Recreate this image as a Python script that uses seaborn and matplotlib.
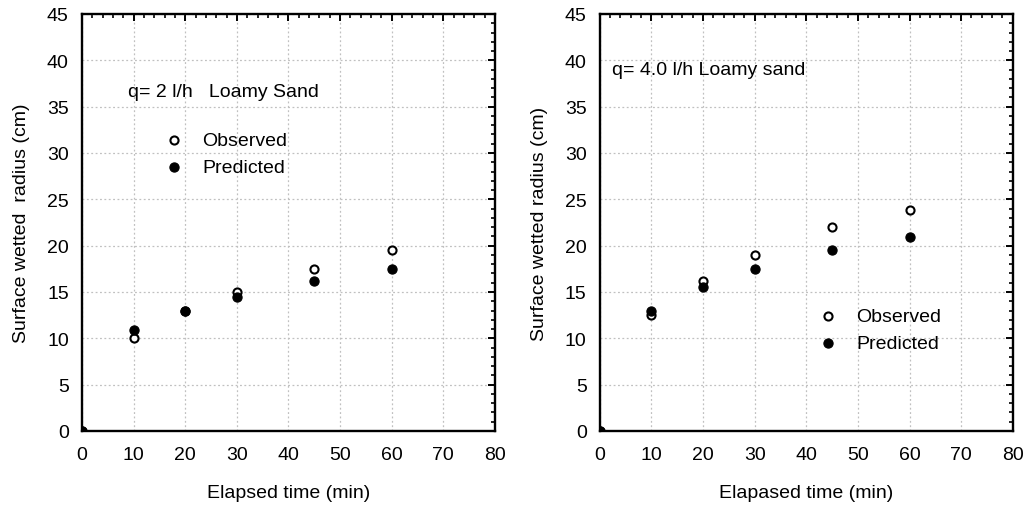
import numpy as np
import pandas as pd
import matplotlib.pyplot as plt
import seaborn as sns
from matplotlib.ticker import MultipleLocator

sns.set_style("white")
plt.rcParams["font.family"] = ["Liberation Sans", "DejaVu Sans"]
plt.rcParams.update({"text.color": "black", "axes.labelcolor": "black",
                     "xtick.color": "black", "ytick.color": "black"})

# ── data ─────────────────────────────────────────────────────────────────────
time_min = [0, 10, 20, 30, 45, 60]

obs_2lh = [0, 10.0, 13.0, 15.0, 17.5, 19.5]
pred_2lh = [0, 10.9, 13.0, 14.5, 16.2, 17.5]

obs_4lh = [0, 12.5, 16.2, 19.0, 22.0, 23.8]
pred_4lh = [0, 13.0, 15.5, 17.5, 19.5, 20.9]

panels = [
    dict(obs=obs_2lh, pred=pred_2lh, note="q= 2 l/h   Loamy Sand",
         xlabel="Elapsed time (min)", ylabel="Surface wetted  radius (cm)",
         note_xy=(0.111, 0.813), leg_xy=(0.199, 0.719)),
    dict(obs=obs_4lh, pred=pred_4lh, note="q= 4.0 l/h Loamy sand",
         xlabel="Elapased time (min)", ylabel="Surface wetted radius (cm)",
         note_xy=(0.029, 0.868), leg_xy=(0.529, 0.297)),
]

FS = 14

fig, axes = plt.subplots(1, 2, figsize=(10.24, 5.10), dpi=100)
fig.subplots_adjust(left=0.0801, right=0.989, bottom=0.153, top=0.9706, wspace=0.254)

for ax, p in zip(axes, panels):
    df = pd.DataFrame({"t": time_min, "obs": p["obs"], "pred": p["pred"]})

    # observed first (legend order), predicted drawn on top
    sns.scatterplot(data=df, x="t", y="obs", ax=ax, facecolor="white", s=34,
                    edgecolor="black", linewidth=1.5, label="Observed", zorder=3)
    sns.scatterplot(data=df, x="t", y="pred", ax=ax, color="black", s=44,
                    edgecolor="black", linewidth=0.8, label="Predicted", zorder=4)

    ax.set_xlim(0, 80)
    ax.set_ylim(0, 45)
    ax.xaxis.set_major_locator(MultipleLocator(10))
    ax.xaxis.set_minor_locator(MultipleLocator(2))
    ax.yaxis.set_major_locator(MultipleLocator(5))
    ax.yaxis.set_minor_locator(MultipleLocator(1))
    ax.tick_params(which="both", direction="in", top=True, right=True,
                   labelsize=FS, color="black")
    ax.tick_params(which="major", length=5, width=1.4)
    ax.tick_params(which="minor", length=3, width=1.2)
    ax.tick_params(axis="y", which="major", pad=9.5)
    ax.tick_params(axis="x", which="major", pad=11)
    ax.grid(True, which="major", linestyle=(0, (1.5, 2)), color="#c0c0c0", linewidth=0.9)
    for sp in ax.spines.values():
        sp.set_linewidth(1.7)
        sp.set_color("black")

    ax.set_xlabel(p["xlabel"], fontsize=FS, labelpad=15)
    ax.set_ylabel(p["ylabel"], fontsize=FS, labelpad=12)

    ax.text(*p["note_xy"], p["note"], transform=ax.transAxes, fontsize=FS,
            va="center", ha="left")

    ax.legend(loc="upper left", bbox_to_anchor=p["leg_xy"], frameon=False,
              fontsize=FS, handlelength=1.0, handletextpad=0.94,
              labelspacing=0.5, borderaxespad=0, borderpad=0)

fig.savefig("out.png", dpi=100)
